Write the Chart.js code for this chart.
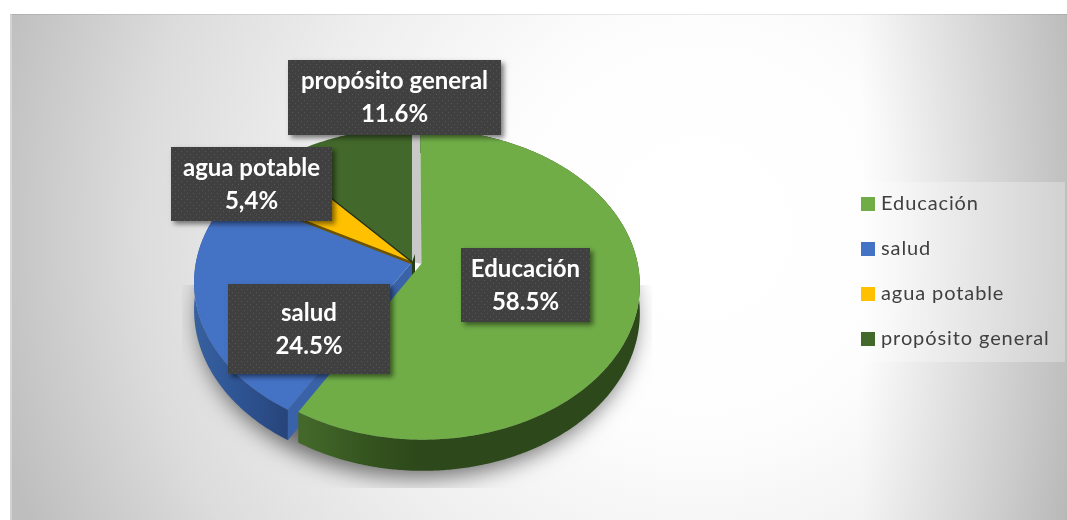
<!DOCTYPE html>
<html><head><meta charset="utf-8">
<style>html,body{margin:0;padding:0;background:#fff}canvas{display:block}</style>
<script src="https://cdn.jsdelivr.net/npm/chart.js@4"></script>
</head><body><canvas id="c" width="1067" height="520"></canvas>
<script>
const categories = ['Educación', 'salud', 'agua potable', 'propósito general'];
const seriesValues = [58.5, 24.5, 5.4, 11.6];
const valueLabels = ['58.5%', '24.5%', '5,4%', '11.6%'];
const topColors = ['#70ad47', '#4472c4', '#ffc000', '#43682b'];

const FONT = 'Lato, "Open Sans", sans-serif';
const view = {cx: 412, cy: 262, R: 216, S: 152, k: 0.1327, depth: 27, explode: 0.045};
const labelBoxes = [
  {x: 461, y: 248, w: 129, h: 74},
  {x: 228, y: 284, w: 162, h: 90},
  {x: 171, y: 147, w: 161, h: 74},
  {x: 288, y: 60, w: 213, h: 75}
];
const legendRows = [204, 249, 294, 339];

function project(u, v) {
  const d = 1 - view.k * v;
  return [view.cx + view.R * u / d, view.cy + view.S * v / d];
}
function rimPoint(theta, ou, ov) {
  return project(Math.sin(theta) + ou, -Math.cos(theta) + ov);
}
function depthAt(theta, ov) {
  const v = -Math.cos(theta) + ov;
  return view.depth / (1 - view.k * v);
}
function trace(ctx, pts) {
  ctx.beginPath();
  pts.forEach((p, i) => i ? ctx.lineTo(p[0], p[1]) : ctx.moveTo(p[0], p[1]));
  ctx.closePath();
}
function sectorPts(a0, a1, ou, ov) {
  const pts = [project(ou, ov)];
  const n = Math.max(8, Math.ceil((a1 - a0) * 120));
  for (let i = 0; i <= n; i++) pts.push(rimPoint(a0 + (a1 - a0) * i / n, ou, ov));
  return pts;
}
function wallPts(a0, a1, ou, ov) {
  const up = [], low = [];
  const n = Math.max(8, Math.ceil((a1 - a0) * 120));
  for (let i = 0; i <= n; i++) {
    const t = a0 + (a1 - a0) * i / n;
    const p = rimPoint(t, ou, ov);
    up.push(p);
    low.push([p[0], p[1] + depthAt(t, ov)]);
  }
  return up.concat(low.reverse());
}

const scenePlugin = {
  id: 'scene',
  beforeDraw(chart) {
    const ctx = chart.ctx;
    ctx.save();
    ctx.fillStyle = '#fff';
    ctx.fillRect(0, 0, 1067, 520);
    const g = ctx.createRadialGradient(700, 230, 60, 700, 230, 730);
    g.addColorStop(0, '#ffffff');
    g.addColorStop(0.22, '#fdfdfd');
    g.addColorStop(0.5, '#eeeeee');
    g.addColorStop(0.75, '#dcdcdc');
    g.addColorStop(1, '#bebebe');
    ctx.fillStyle = g;
    ctx.fillRect(10, 14, 1057, 506);
    const r = ctx.createLinearGradient(860, 0, 1067, 0);
    r.addColorStop(0, 'rgba(0,0,0,0)');
    r.addColorStop(1, 'rgba(0,0,0,0.2)');
    ctx.fillStyle = r;
    ctx.fillRect(860, 14, 207, 506);
    ctx.fillStyle = 'rgba(0,0,0,0.08)';
    ctx.fillRect(10, 14, 1057, 1);
    ctx.fillStyle = 'rgba(255,255,255,0.3)';
    ctx.fillRect(10, 14, 2, 506);
    ctx.restore();
  },
  beforeDatasetDraw(chart) {
    const ctx = chart.ctx;
    const arcs = chart.getDatasetMeta(0).data;
    const ang = arcs.map(a => [a.startAngle + Math.PI / 2, a.endAngle + Math.PI / 2]);
    const mid = (ang[0][0] + ang[0][1]) / 2;
    const ou = Math.sin(mid) * view.explode, ov = -Math.cos(mid) * view.explode;

    // soft shadow under the pie
    ctx.save();
    ctx.beginPath();
    ctx.rect(182, 285, 470, 203);
    ctx.clip();
    ctx.shadowColor = 'rgba(0,0,0,0.55)';
    ctx.shadowBlur = 22;
    ctx.shadowOffsetX = 1200;
    ctx.shadowOffsetY = 8;
    ctx.fillStyle = '#000';
    const ring = [];
    for (let i = 0; i <= 240; i++) {
      const t = i / 240 * Math.PI * 2;
      const p = rimPoint(t, ou / 2, ov / 2);
      ring.push([p[0] - 1200, p[1] + depthAt(t, ov) ]);
    }
    trace(ctx, ring);
    ctx.fill();
    ctx.restore();

    // gap behind the exploded slice
    const apexO = project(0, 0), apexE = project(ou, ov);
    const topO = rimPoint(0, 0, 0), topE = rimPoint(0, ou, ov);
    ctx.fillStyle = '#c9c9c9';
    trace(ctx, [apexO, topO, topE, apexE]);
    ctx.fill();
    ctx.fillStyle = '#263b17';
    trace(ctx, [apexO, [apexO[0] + 3, apexO[1] - 8], [apexO[0] + 3, apexO[1] + 20], [apexO[0], apexO[1] + 20]]);
    ctx.fill();

    // back slices
    [3, 2].forEach(i => {
      ctx.fillStyle = topColors[i];
      trace(ctx, sectorPts(ang[i][0], ang[i][1], 0, 0));
      ctx.fill();
    });

    // salud: wall, cut face, top
    const cs = rimPoint(ang[1][0], 0, 0), dcs = depthAt(ang[1][0], 0);
    ctx.fillStyle = '#3a62a8';
    trace(ctx, [apexO, cs, [cs[0], cs[1] + dcs], [apexO[0], apexO[1] + dcs]]);
    ctx.fill();
    const bw = ctx.createLinearGradient(195, 0, 295, 0);
    bw.addColorStop(0, '#37609f');
    bw.addColorStop(0.4, '#2f5595');
    bw.addColorStop(1, '#264277');
    ctx.fillStyle = bw;
    trace(ctx, wallPts(ang[1][0], ang[1][1], 0, 0));
    ctx.fill();
    ctx.fillStyle = topColors[1];
    trace(ctx, sectorPts(ang[1][0], ang[1][1], 0, 0));
    ctx.fill();

    // slice seams
    const p1 = rimPoint(ang[1][1], 0, 0), p2 = rimPoint(ang[2][1], 0, 0);
    ctx.lineCap = 'butt';
    ctx.strokeStyle = '#6f5400';
    ctx.lineWidth = 2.5;
    ctx.beginPath(); ctx.moveTo(apexO[0], apexO[1] + 1); ctx.lineTo(p1[0], p1[1] + 1); ctx.stroke();
    ctx.strokeStyle = '#1d2c12';
    ctx.lineWidth = 1.3;
    ctx.beginPath(); ctx.moveTo(apexO[0], apexO[1]); ctx.lineTo(p2[0], p2[1]); ctx.stroke();

    // Educación: wall, top
    const gw = ctx.createLinearGradient(305, 0, 420, 0);
    gw.addColorStop(0, '#43682a');
    gw.addColorStop(0.6, '#33521e');
    gw.addColorStop(1, '#2d481a');
    ctx.fillStyle = gw;
    trace(ctx, wallPts(ang[0][0], ang[0][1], ou, ov));
    ctx.fill();
    ctx.fillStyle = topColors[0];
    trace(ctx, sectorPts(ang[0][0], ang[0][1], ou, ov));
    ctx.fill();
    return false;
  },
  afterDatasetsDraw(chart) {
    const ctx = chart.ctx;
    // dotted pattern for the label boxes
    const pc = document.createElement('canvas');
    pc.width = 6; pc.height = 6;
    const px = pc.getContext('2d');
    px.fillStyle = '#404040'; px.fillRect(0, 0, 6, 6);
    px.fillStyle = '#565656';
    px.fillRect(1, 1, 1, 1); px.fillRect(4, 4, 1, 1);
    const pat = ctx.createPattern(pc, 'repeat');

    // legend panel
    ctx.save();
    ctx.fillStyle = 'rgba(255,255,255,0.28)';
    ctx.fillRect(848, 182, 217, 180);
    ctx.textBaseline = 'middle';
    ctx.textAlign = 'left';
    ctx.font = '20px ' + FONT;
    if ('letterSpacing' in ctx) ctx.letterSpacing = '0.9px';
    categories.forEach((name, i) => {
      ctx.fillStyle = topColors[i];
      ctx.fillRect(861, legendRows[i] - 7, 14, 14);
      ctx.fillStyle = '#404040';
      ctx.fillText(name, 881, legendRows[i]);
    });
    ctx.restore();

    // data labels
    categories.forEach((name, i) => {
      const b = labelBoxes[i];
      ctx.save();
      ctx.shadowColor = 'rgba(0,0,0,0.5)';
      ctx.shadowBlur = 5;
      ctx.shadowOffsetX = 3;
      ctx.shadowOffsetY = 3;
      ctx.fillStyle = '#404040';
      ctx.fillRect(b.x, b.y, b.w, b.h);
      ctx.restore();
      ctx.save();
      ctx.fillStyle = pat;
      ctx.fillRect(b.x, b.y, b.w, b.h);
      ctx.fillStyle = '#fff';
      ctx.textAlign = 'center';
      ctx.textBaseline = 'middle';
      ctx.font = 'bold 24px ' + FONT;
      const x = b.x + b.w / 2, y = b.y + b.h / 2;
      ctx.fillText(name, x, y - 16);
      ctx.fillText(valueLabels[i], x, y + 17);
      ctx.restore();
    });
  }
};

new Chart(document.getElementById('c'), {
  type: 'pie',
  data: {
    labels: categories,
    datasets: [{data: seriesValues, backgroundColor: topColors, borderWidth: 0}]
  },
  options: {
    responsive: false,
    animation: false,
    devicePixelRatio: 1,
    plugins: {legend: {display: false}, tooltip: {enabled: false}}
  },
  plugins: [scenePlugin]
});
</script></body></html>
